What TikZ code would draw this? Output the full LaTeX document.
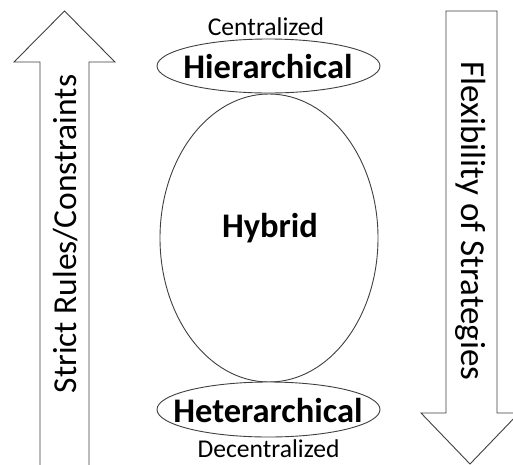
\documentclass[tikz,border=0pt]{standalone}
\usepackage{fontspec}
\setmainfont{Carlito}
\usetikzlibrary{shapes.geometric}
\definecolor{edge}{HTML}{404040}
\tikzset{
  outline/.style={draw=edge, line width=0.9pt, line join=miter},
  oval/.style={ellipse, outline, fill=white, inner sep=0pt},
  bigtxt/.style={font=\fontsize{34.5}{40}\selectfont\bfseries, anchor=base, inner sep=0pt},
  smalltxt/.style={font=\fontsize{25.6}{30}\selectfont, anchor=base, inner sep=0pt},
  sidetxt/.style={font=\fontsize{33.5}{38}\selectfont, inner sep=0pt}
}
\begin{document}
\begin{tikzpicture}[x=1pt, y=-1pt]
\useasboundingbox (0,0) rectangle (513,464);
\clip (0,0) rectangle (513,464);
\fill[white] (0,0) rectangle (513,464);
% left arrow (up)
\draw[outline, fill=white] (40,470) -- (40,62) -- (14,62) -- (64.5,11) -- (115,62) -- (89,62) -- (89,470);
\node[sidetxt, rotate=90] (left) at (66,234) {Strict Rules/Constraints};
% right arrow (down)
\draw[outline, fill=white] (446,11) -- (497,11) -- (497,413) -- (519,413) -- (470,464) -- (421,413) -- (446,413) -- cycle;
\node[sidetxt, rotate=-90, font=\fontsize{35}{40}\selectfont] (right) at (471,221) {Flexibility of Strategies};
% ellipses
\node[oval, minimum width=218pt, minimum height=288pt] (hyb) at (269,238) {};
\node[oval, minimum width=223pt, minimum height=54pt] (hier) at (268.5,66) {};
\node[oval, minimum width=223pt, minimum height=55pt] (het) at (268.5,409.5) {};
% texts
\node[bigtxt] (hiert) at (268,78) {Hierarchical};
\node[bigtxt] (hett) at (268,422) {Heterarchical};
\node[bigtxt] (hybt) at (270,237) {Hybrid};
\node[smalltxt] (cen) at (266,35) {Centralized};
\node[smalltxt] (dec) at (268.5,457) {Decentralized};
\end{tikzpicture}
\end{document}
